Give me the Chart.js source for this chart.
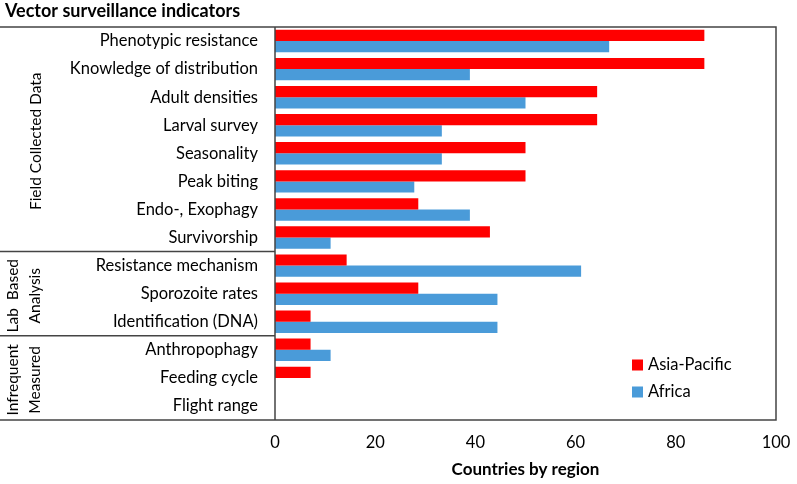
<!DOCTYPE html>
<html>
<head>
<meta charset="utf-8">
<script src="https://cdn.jsdelivr.net/npm/chart.js@4"></script>
<style>
  html, body { margin: 0; padding: 0; background: #fff; }
  #wrap { width: 797px; height: 484px; position: relative; }
</style>
</head>
<body>
<div id="wrap"><canvas id="c" width="797" height="484"></canvas></div>
<script>
const categories = [
  "Phenotypic resistance", "Knowledge of distribution", "Adult densities", "Larval survey",
  "Seasonality", "Peak biting", "Endo-, Exophagy", "Survivorship",
  "Resistance mechanism", "Sporozoite rates", "Identification (DNA)",
  "Anthropophagy", "Feeding cycle", "Flight range"
];
const asiaPacific = [85.7, 85.7, 64.3, 64.3, 50.0, 50.0, 28.6, 42.9, 14.3, 28.6, 7.1, 7.1, 7.1, 0];
const africa      = [66.7, 38.9, 50.0, 33.3, 33.3, 27.8, 38.9, 11.1, 61.1, 44.4, 44.4, 11.1, 0, 0];
const xTicks = [0, 20, 40, 60, 80, 100];
const groups = [
  { lines: ["Field Collected Data"], from: 0, to: 7 },
  { lines: ["Lab  Based", "Analysis"], from: 8, to: 10 },
  { lines: ["Infrequent", "Measured"], from: 11, to: 13 }
];
const seriesNames = ["Asia-Pacific", "Africa"];
const seriesColors = ["#FF0000", "#4A9BD9"];

const FONT = "Lato, 'Open Sans', sans-serif";

const decorPlugin = {
  id: 'decor',
  afterDraw(chart) {
    const ctx = chart.ctx;
    const area = chart.chartArea;
    const y = chart.scales.y;
    const band = (y.getPixelForValue(1) - y.getPixelForValue(0));
    const edge = i => y.getPixelForValue(i) - band / 2;
    ctx.save();
    // title
    ctx.fillStyle = '#000';
    ctx.font = "bold 18px " + FONT;
    ctx.textAlign = 'left';
    ctx.textBaseline = 'middle';
    ctx.fillText("Vector surveillance indicators", 5, 11);
    // frame
    ctx.strokeStyle = '#444';
    ctx.lineWidth = 1.5;
    ctx.beginPath();
    ctx.moveTo(0, area.top); ctx.lineTo(area.right, area.top);
    ctx.lineTo(area.right, area.bottom); ctx.lineTo(0, area.bottom);
    ctx.moveTo(area.left, area.top); ctx.lineTo(area.left, area.bottom);
    groups.forEach((g, gi) => {
      if (gi > 0) {
        const yy = edge(g.from);
        ctx.moveTo(0, yy); ctx.lineTo(area.left, yy);
      }
    });
    ctx.stroke();
    // group labels
    ctx.fillStyle = '#000';
    ctx.font = "15.5px " + FONT;
    ctx.textAlign = 'center';
    ctx.textBaseline = 'middle';
    groups.forEach(g => {
      const top = edge(g.from), bot = edge(g.to + 1);
      const cy = (top + bot) / 2 + 2;
      const xs = g.lines.length === 1 ? [36] : [13, 35];
      g.lines.forEach((t, i) => {
        ctx.save();
        ctx.translate(xs[i], cy);
        ctx.rotate(-Math.PI / 2);
        ctx.fillText(t, 0, 0);
        ctx.restore();
      });
    });
    // legend
    ctx.font = "16.5px " + FONT;
    ctx.textAlign = 'left';
    chart.data.datasets.forEach((ds, i) => {
      const ly = 365 + i * 27;
      ctx.fillStyle = ds.backgroundColor;
      ctx.fillRect(632, ly - 5.5, 11, 11);
      ctx.fillStyle = '#000';
      ctx.fillText(ds.label, 648, ly);
    });
    ctx.restore();
  }
};

new Chart(document.getElementById('c'), {
  type: 'bar',
  data: {
    labels: categories,
    datasets: [
      { label: seriesNames[0], data: asiaPacific, backgroundColor: seriesColors[0] },
      { label: seriesNames[1], data: africa, backgroundColor: seriesColors[1] }
    ]
  },
  options: {
    indexAxis: 'y',
    responsive: false,
    animation: false,
    layout: { padding: { top: 27, right: 21, left: 0, bottom: 0 } },
    datasets: { bar: { categoryPercentage: 0.8, barPercentage: 1.0 } },
    plugins: { legend: { display: false }, title: { display: false }, tooltip: { enabled: false } },
    scales: {
      x: {
        min: 0, max: 100,
        afterFit(s) { s.height = 64; s.paddingLeft = 0; s.paddingRight = 0; },
        afterBuildTicks(s) { s.ticks = xTicks.map(v => ({ value: v })); },
        grid: { display: false, drawTicks: false },
        border: { display: false },
        ticks: { color: '#000', font: { family: FONT, size: 16.5 }, padding: 13, maxRotation: 0 },
        title: { display: true, text: 'Countries by region', color: '#000',
                 font: { family: FONT, size: 17, weight: 'bold' }, padding: { top: 6, bottom: 4 } }
      },
      y: {
        afterFit(s) { s.width = 275; s.paddingTop = 0; s.paddingBottom = 0; },
        grid: { display: false, drawTicks: false },
        border: { display: false },
        ticks: { color: '#000', font: { family: FONT, size: 16.5 }, padding: 17, autoSkip: false }
      }
    }
  },
  plugins: [decorPlugin]
});
</script>
</body>
</html>
